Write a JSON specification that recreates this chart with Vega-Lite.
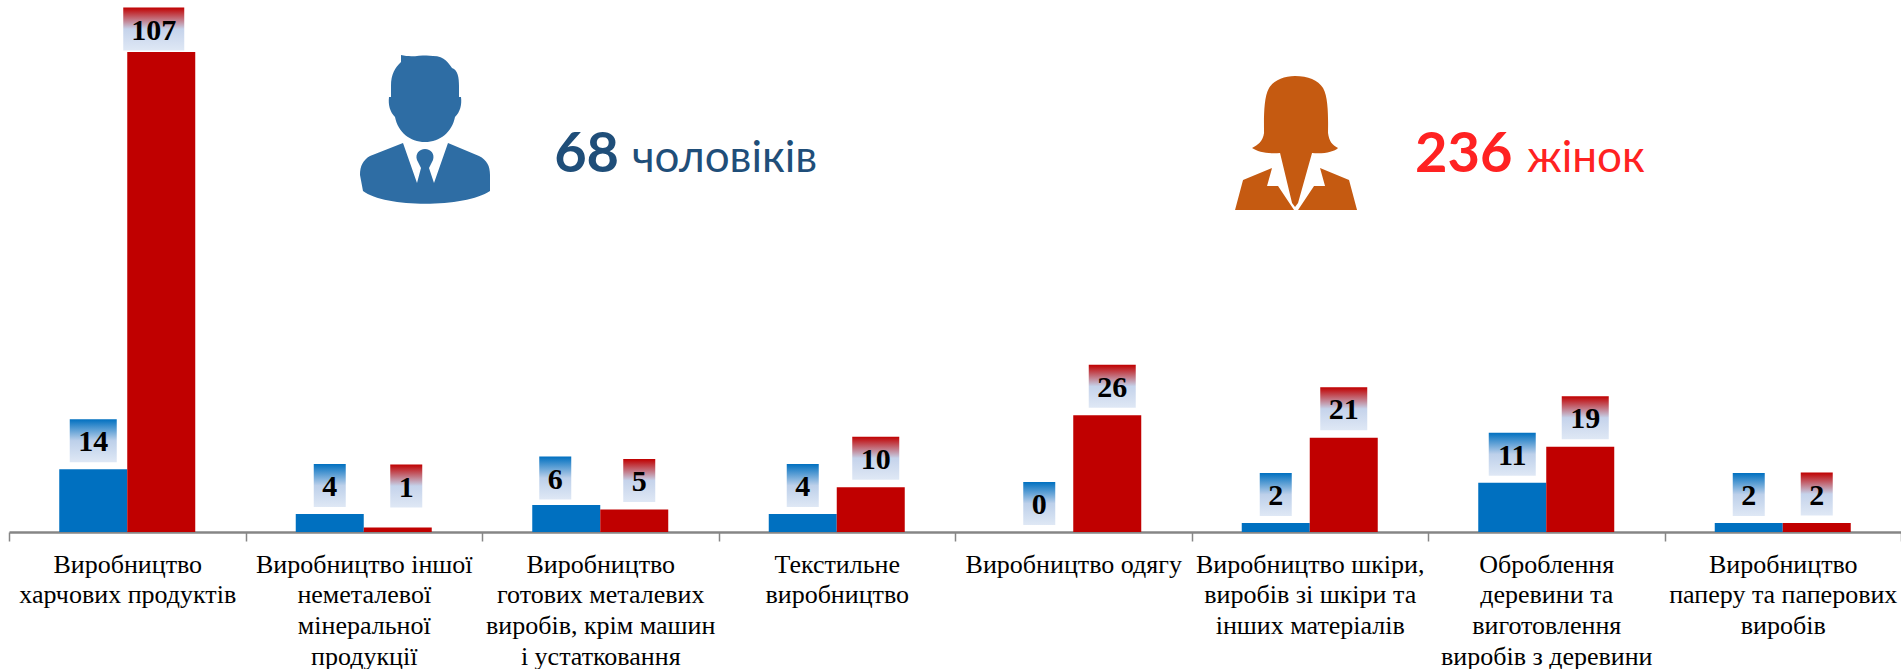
{
"$schema":"https://vega.github.io/schema/vega-lite/v6.json",
"width":1892,"height":532,
"autosize":"none",
"padding":{"left":9,"top":0,"right":0,"bottom":137},
"background":"white",
"config":{"view":{"stroke":null}},
"layer":[
{
"data":{"values":[
{"category":"Виробництво|харчових продуктів","gender":"чоловіки","value":14},
{"category":"Виробництво|харчових продуктів","gender":"жінки","value":107},
{"category":"Виробництво іншої|неметалевої|мінеральної|продукції","gender":"чоловіки","value":4},
{"category":"Виробництво іншої|неметалевої|мінеральної|продукції","gender":"жінки","value":1},
{"category":"Виробництво|готових металевих|виробів, крім машин|і устатковання","gender":"чоловіки","value":6},
{"category":"Виробництво|готових металевих|виробів, крім машин|і устатковання","gender":"жінки","value":5},
{"category":"Текстильне|виробництво","gender":"чоловіки","value":4},
{"category":"Текстильне|виробництво","gender":"жінки","value":10},
{"category":"Виробництво одягу","gender":"чоловіки","value":0},
{"category":"Виробництво одягу","gender":"жінки","value":26},
{"category":"Виробництво шкіри,|виробів зі шкіри та|інших матеріалів","gender":"чоловіки","value":2},
{"category":"Виробництво шкіри,|виробів зі шкіри та|інших матеріалів","gender":"жінки","value":21},
{"category":"Оброблення|деревини та|виготовлення|виробів з деревини","gender":"чоловіки","value":11},
{"category":"Оброблення|деревини та|виготовлення|виробів з деревини","gender":"жінки","value":19},
{"category":"Виробництво|паперу та паперових|виробів","gender":"чоловіки","value":2},
{"category":"Виробництво|паперу та паперових|виробів","gender":"жінки","value":2}
]},
"encoding":{
"x":{"field":"category","type":"nominal","sort":null,"title":null,
"scale":{"paddingInner":0,"paddingOuter":0},
"axis":{"labelExpr":"split(datum.label,'|')","labelAngle":0,"labelFont":"Liberation Serif","labelFontSize":26,"labelColor":"#000000","labelLineHeight":30.7,"labelBaseline":"top","labelPadding":10,"labelLimit":400,"labelOverlap":false,"labelBound":false,"labelFlush":false,"tickBand":"extent","tickSize":9,"tickWidth":1.5,"tickColor":"#868686","domainColor":"#868686","domainWidth":2.5,"grid":false}},
"xOffset":{"field":"gender","type":"nominal","sort":["чоловіки","жінки"],"scale":{"domain":["чоловіки","жінки"],"paddingInner":0,"paddingOuter":0.739}},
"y":{"field":"value","type":"quantitative","title":null,"axis":null,"scale":{"domain":[0,118.6],"nice":false}}
},
"layer":[
{"mark":{"type":"bar","stroke":null},
 "encoding":{"color":{"field":"gender","type":"nominal","legend":null,"scale":{"domain":["чоловіки","жінки"],"range":["#0070C0","#C00000"]}}}},

{"transform":[{"filter":"datum.gender==='чоловіки' && datum.value!==6"}],
 "mark":{"type":"point","filled":true,"size":4,"opacity":1,"strokeWidth":0,"yOffset":-28.5,"fill":{"gradient":"linear","x1":0,"y1":0,"x2":0,"y2":1,"stops":[{"offset":0,"color":"#0070C0"},{"offset":0.5,"color":"#BDD0EA"},{"offset":1,"color":"#DFE8F5"}]}},
 "encoding":{"shape":{"field":"value","type":"nominal","legend":null,"scale":{"domain":[0,1,2,4,5,6,10,11,14,19,21,26,107],"range":["M-16,-21.5H16V21.5H-16Z","M-7.5,-21.5H24.5V21.5H-7.5Z","M-16,-21.5H16V21.5H-16Z","M-16,-21.5H16V21.5H-16Z","M-11,-21.5H21V21.5H-11Z","M-27,-21.5H5V21.5H-27Z","M-18.5,-21.5H28.5V21.5H-18.5Z","M-23.5,-21.5H23.5V21.5H-23.5Z","M-23.5,-21.5H23.5V21.5H-23.5Z","M-18.5,-21.5H28.5V21.5H-18.5Z","M-23.5,-21.5H23.5V21.5H-23.5Z","M-18.5,-21.5H28.5V21.5H-18.5Z","M-38,-21.5H23V21.5H-38Z"]}}}},
{"transform":[{"filter":"datum.gender==='чоловіки' && datum.value===6"}],
 "mark":{"type":"point","filled":true,"size":4,"opacity":1,"strokeWidth":0,"yOffset":-27,"fill":{"gradient":"linear","x1":0,"y1":0,"x2":0,"y2":1,"stops":[{"offset":0,"color":"#0070C0"},{"offset":0.5,"color":"#BDD0EA"},{"offset":1,"color":"#DFE8F5"}]}},
 "encoding":{"shape":{"field":"value","type":"nominal","legend":null}}},
{"transform":[{"filter":"datum.gender==='жінки' && datum.value!==107 && datum.value!==1"}],
 "mark":{"type":"point","filled":true,"size":4,"opacity":1,"strokeWidth":0,"yOffset":-29,"fill":{"gradient":"linear","x1":0,"y1":0,"x2":0,"y2":1,"stops":[{"offset":0,"color":"#C00000"},{"offset":0.5,"color":"#C5D3EB"},{"offset":1,"color":"#DFE8F5"}]}},
 "encoding":{"shape":{"field":"value","type":"nominal","legend":null}}},
{"transform":[{"filter":"datum.gender==='жінки' && datum.value===107"}],
 "mark":{"type":"point","filled":true,"size":4,"opacity":1,"strokeWidth":0,"yOffset":-23,"fill":{"gradient":"linear","x1":0,"y1":0,"x2":0,"y2":1,"stops":[{"offset":0,"color":"#C00000"},{"offset":0.5,"color":"#C5D3EB"},{"offset":1,"color":"#DFE8F5"}]}},
 "encoding":{"shape":{"field":"value","type":"nominal","legend":null}}},
{"transform":[{"filter":"datum.gender==='жінки' && datum.value===1"}],
 "mark":{"type":"point","filled":true,"size":4,"opacity":1,"strokeWidth":0,"yOffset":-41.5,"fill":{"gradient":"linear","x1":0,"y1":0,"x2":0,"y2":1,"stops":[{"offset":0,"color":"#C00000"},{"offset":0.5,"color":"#C5D3EB"},{"offset":1,"color":"#DFE8F5"}]}},
 "encoding":{"shape":{"field":"value","type":"nominal","legend":null}}},

{"transform":[{"filter":"datum.gender==='чоловіки' && datum.value!==6"}],
 "mark":{"type":"text","font":"Liberation Serif","fontWeight":"bold","fontSize":30,"color":"#000000","baseline":"middle","yOffset":-27},
 "encoding":{"text":{"field":"value","type":"quantitative"}}},
{"transform":[{"filter":"datum.gender==='чоловіки' && datum.value===6"}],
 "mark":{"type":"text","font":"Liberation Serif","fontWeight":"bold","fontSize":30,"color":"#000000","baseline":"middle","yOffset":-25.5,"dx":-11},
 "encoding":{"text":{"field":"value","type":"quantitative"}}},
{"transform":[{"filter":"datum.gender==='жінки' && (datum.value===21 || datum.value===2)"}],
 "mark":{"type":"text","font":"Liberation Serif","fontWeight":"bold","fontSize":30,"color":"#000000","baseline":"middle","yOffset":-27.5},
 "encoding":{"text":{"field":"value","type":"quantitative"}}},
{"transform":[{"filter":"datum.gender==='жінки' && (datum.value===5 || datum.value===10 || datum.value===19 || datum.value===26)"}],
 "mark":{"type":"text","font":"Liberation Serif","fontWeight":"bold","fontSize":30,"color":"#000000","baseline":"middle","yOffset":-27.5,"dx":5},
 "encoding":{"text":{"field":"value","type":"quantitative"}}},
{"transform":[{"filter":"datum.gender==='жінки' && datum.value===107"}],
 "mark":{"type":"text","font":"Liberation Serif","fontWeight":"bold","fontSize":30,"color":"#000000","baseline":"middle","yOffset":-21.5,"dx":-7.5},
 "encoding":{"text":{"field":"value","type":"quantitative"}}},
{"transform":[{"filter":"datum.gender==='жінки' && datum.value===1"}],
 "mark":{"type":"text","font":"Liberation Serif","fontWeight":"bold","fontSize":30,"color":"#000000","baseline":"middle","yOffset":-40,"dx":8.5},
 "encoding":{"text":{"field":"value","type":"quantitative"}}}
]
},
{
"data":{"values":[
{"group":"чоловіки","iconX":1.759,"iconY":89.6,"numX":2.305,"numText":"68","wordX":2.634,"wordText":"чоловіків","textY":80.25},
{"group":"жінки","iconX":5.442,"iconY":86.7,"numX":5.945,"numText":"236","wordX":6.419,"wordText":"жінок","textY":80.25}
]},
"layer":[
{"transform":[{"filter":"datum.group==='чоловіки'"}],
 "mark":{"type":"point","filled":true,"size":4,"opacity":1,"strokeWidth":0,"fill":"#2E6DA4","shape":"M-24,-75C-12,-72 -2,-76 8,-74C20,-74 24,-66 27,-62C33,-60 34,-52 34,-44L34,-33L36,-33C37,-25 35,-18 30,-13C27,2 15,12 0,12C-15,12 -27,2 -30,-13C-35,-18 -37,-25 -36,-33L-34,-33L-34,-44C-34,-56 -30,-62 -24,-68L-24,-75ZM-22,13L-8,53L-4,38L-8,30C-10,24 -6,19 0,19C6,19 10,24 8,30L4,38L9,53L23,13L54,26C62,30 65,36 65,45L65,61C40,78 -40,78 -62,61L-65,45C-65,36 -62,30 -55,26Z"},
 "encoding":{"x":{"field":"iconX","type":"quantitative","axis":null,"scale":{"domain":[0,8],"nice":false,"zero":false}},"y":{"field":"iconY","type":"quantitative"}}},
{"transform":[{"filter":"datum.group==='жінки'"}],
 "mark":{"type":"point","filled":true,"size":4,"opacity":1,"strokeWidth":0,"fill":"#C55A11","shape":"M-1,-67C12,-67 22,-63 27,-55C33,-45 32,-20 32,-10C33,-2 36,2 42,5C38,9 28,11 16,10L2,60L-1,64L-4,60L-16,10C-28,11 -38,9 -44,5C-38,2 -33,-2 -32,-10C-32,-20 -33,-45 -27,-55C-22,-63 -12,-67 -1,-67ZM-24,25L-29,43L-18,43L-2,67L-61,67L-53,37ZM24,25L29,43L18,43L2,67L61,67L53,37Z"},
 "encoding":{"x":{"field":"iconX","type":"quantitative","axis":null},"y":{"field":"iconY","type":"quantitative"}}},
{"transform":[{"filter":"datum.group==='чоловіки'"}],
 "mark":{"type":"text","font":"Lato","fontWeight":"bold","fontSize":56,"align":"left","baseline":"alphabetic","color":"#1F4E79"},
 "encoding":{"x":{"field":"numX","type":"quantitative","axis":null},"y":{"field":"textY","type":"quantitative"},"text":{"field":"numText"}}},
{"transform":[{"filter":"datum.group==='чоловіки'"}],
 "mark":{"type":"text","font":"Lato","fontSize":44,"align":"left","baseline":"alphabetic","color":"#1F4E79"},
 "encoding":{"x":{"field":"wordX","type":"quantitative","axis":null},"y":{"field":"textY","type":"quantitative"},"text":{"field":"wordText"}}},
{"transform":[{"filter":"datum.group==='жінки'"}],
 "mark":{"type":"text","font":"Lato","fontWeight":"bold","fontSize":56,"align":"left","baseline":"alphabetic","color":"#FF2222"},
 "encoding":{"x":{"field":"numX","type":"quantitative","axis":null},"y":{"field":"textY","type":"quantitative"},"text":{"field":"numText"}}},
{"transform":[{"filter":"datum.group==='жінки'"}],
 "mark":{"type":"text","font":"Lato","fontSize":44,"align":"left","baseline":"alphabetic","color":"#FF2222"},
 "encoding":{"x":{"field":"wordX","type":"quantitative","axis":null},"y":{"field":"textY","type":"quantitative"},"text":{"field":"wordText"}}}
]
}
],
"resolve":{"scale":{"x":"independent","xOffset":"independent"},"axis":{"x":"independent"}}
}
